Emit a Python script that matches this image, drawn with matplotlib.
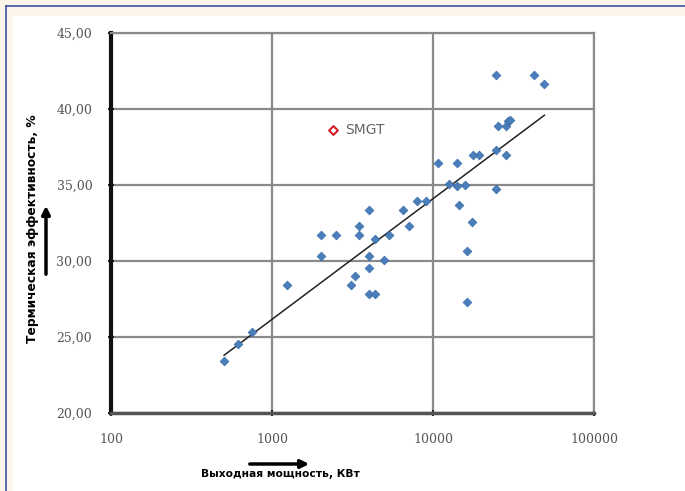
import numpy as np
import matplotlib.pyplot as plt
from matplotlib.ticker import FixedLocator, FixedFormatter, NullLocator

# Выходная мощность, кВт / термическая эффективность, %
power = [504, 618, 755, 1233, 2014, 2014, 2500, 3483, 3483, 3083, 3280,
         4028, 4028, 4028, 4028, 4385, 4345, 4943, 5336, 6515, 7063, 8000,
         9059, 10740, 12560, 14090, 14090, 14490, 15820, 16190, 16190, 17530,
         17770, 19300, 24490, 24490, 24490, 25460, 28270, 28270, 29360, 30000,
         42570, 49190]
eff = [23.4, 24.54, 25.31, 28.4, 31.73, 30.31, 31.73, 32.32, 31.73, 28.4, 28.99,
       33.38, 30.31, 29.52, 27.85, 27.85, 31.45, 30.04, 31.73, 33.38, 32.28, 33.93,
       33.93, 36.45, 35.07, 36.45, 34.96, 33.66, 35.0, 30.64, 27.3, 32.54,
       37.0, 37.0, 42.21, 37.32, 34.76, 38.9, 38.9, 37.0, 39.19, 39.3,
       42.21, 41.67]

smgt_power = [2384]
smgt_eff = [38.64]

xticks = [100, 1000, 10000, 100000]
yticks = [20, 25, 30, 35, 40, 45]

fig = plt.figure(figsize=(6.85, 4.91), dpi=100, facecolor='#fdf5ea')
# рамка
fig.patches.append(plt.Rectangle((13/685, 0), 1, 1 - 16/491, transform=fig.transFigure,
                                 facecolor='white', edgecolor='none', zorder=-10))
fig.add_artist(plt.Line2D([6/685, 6/685], [0, 1 - 6/491], color='#3b4fa0', lw=1.2))
fig.add_artist(plt.Line2D([6/685, 1], [1 - 6/491, 1 - 6/491], color='#3b4fa0', lw=1.2))

ax = fig.add_axes([111/685, 1 - 413/491, 483/685, 380/491])
ax.set_facecolor('white')
ax.set_xscale('log')
ax.set_xlim(100, 100000)
ax.set_ylim(20, 45)

ax.grid(True, color='#8a8a8a', lw=1.6)
ax.set_axisbelow(True)

# линия тренда (логарифмическая)
k, b = np.polyfit(np.log10(power), eff, 1)
xt = np.logspace(np.log10(min(power)), np.log10(max(power)), 50)
ax.plot(xt, k*np.log10(xt) + b, color='#222222', lw=1.1, zorder=3)

ax.scatter(power, eff, marker='D', s=20, color='#4a7ebb', edgecolors='#3a6aa8', lw=0.5, zorder=4)
ax.scatter(smgt_power, smgt_eff, marker='D', s=20, facecolors='white', edgecolors='#d0202a', lw=1.5, zorder=4)
ax.text(smgt_power[0]*1.2, smgt_eff[0], 'SMGT', color='#666666', fontsize=10, va='center')

ax.xaxis.set_major_locator(FixedLocator(xticks))
ax.xaxis.set_major_formatter(FixedFormatter([str(t) for t in xticks]))
ax.xaxis.set_minor_locator(NullLocator())
ax.set_yticks(yticks)
ax.set_yticklabels([('%.2f' % t).replace('.', ',') for t in yticks])
ax.tick_params(axis='both', labelsize=9, labelcolor='#555555', direction='inout', length=5, width=1.5, color='#222222')
for lab in ax.get_xticklabels() + ax.get_yticklabels():
    lab.set_family('DejaVu Serif')
ax.tick_params(axis='x', pad=12)
ax.tick_params(axis='y', pad=11)

ax.spines['left'].set_color('#111111')
ax.spines['left'].set_linewidth(3)
ax.spines['bottom'].set_color('#555555')
ax.spines['bottom'].set_linewidth(2.5)
for s in ['top', 'right']:
    ax.spines[s].set_color('#8a8a8a')
    ax.spines[s].set_linewidth(1.6)

fig.text(280/685, 1 - 474/491, 'Выходная мощность, КВт', fontsize=7.7, fontweight='bold', ha='center', va='center')
fig.text(33/685, 1 - 229/491, 'Термическая эффективность, %', fontsize=8.8, fontweight='bold',
         rotation=90, ha='center', va='center')
fig.add_artist(plt.Annotation('', xy=(312/685, 1 - 464/491), xytext=(247/685, 1 - 464/491),
                              xycoords='figure fraction',
                              arrowprops=dict(arrowstyle='-|>', color='black', lw=2.5, mutation_scale=12)))
fig.add_artist(plt.Annotation('', xy=(46/685, 1 - 203/491), xytext=(46/685, 1 - 277/491),
                              xycoords='figure fraction',
                              arrowprops=dict(arrowstyle='-|>', color='black', lw=2.5, mutation_scale=12)))

fig.savefig('out.png', dpi=100, facecolor=fig.get_facecolor())
